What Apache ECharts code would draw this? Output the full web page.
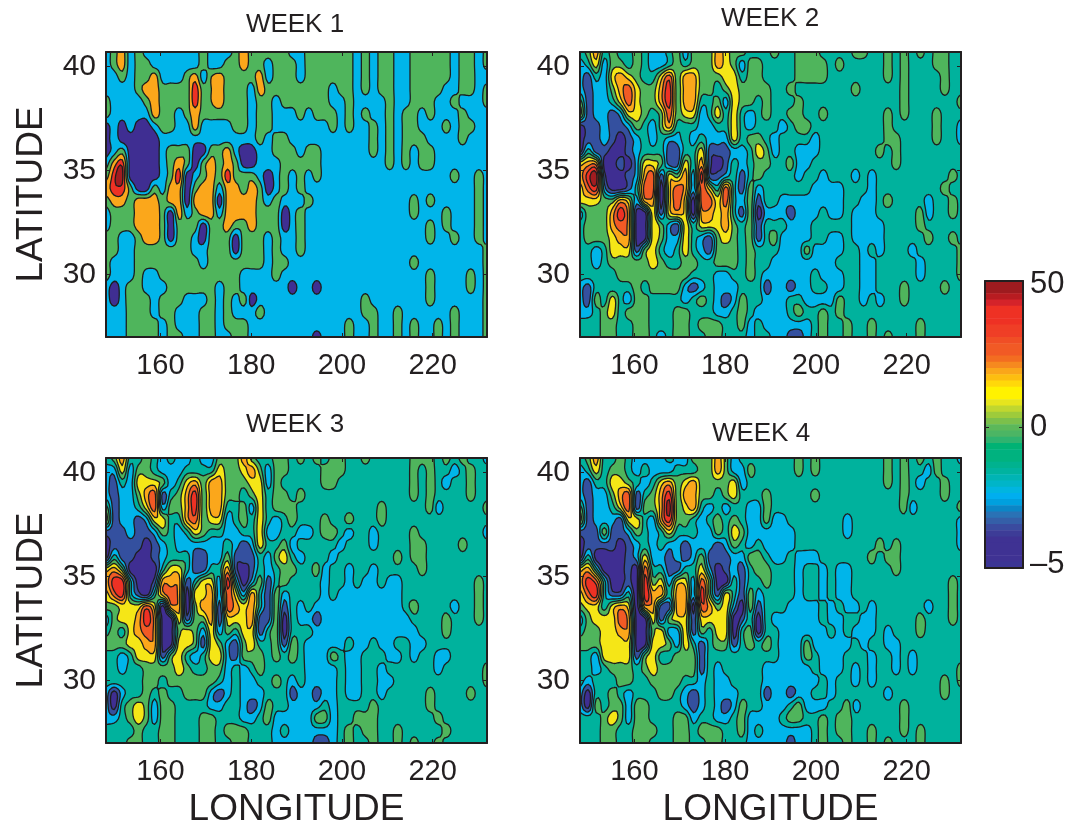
<!DOCTYPE html>
<html><head><meta charset="utf-8">
<style>html,body{margin:0;padding:0;background:#fff}#c{width:1069px;height:824px}</style>
<script src="https://cdn.jsdelivr.net/npm/echarts@6/dist/echarts.min.js"></script>
</head><body><div id="c"></div><script>
// Contour band codes, 48 longitudes x 24 latitudes (top row = north).
// 0 navy, 1 blue, 2 cyan, 3 teal, 4 green, 5 yellow, 6 orange, 7 red-orange, 8 red, 9 dark red
const week1Levels=[
"2462 4222 2222 4222 4644 4442 2444 4442 4244 2244 4442 4424",
"2462 4422 2222 4224 4644 2444 2444 4442 4244 2244 4442 4424",
"2242 4462 2246 2564 4446 2444 2444 4442 4244 2244 4442 4422",
"2222 4664 4448 4564 4426 4444 4444 2442 4244 2244 4422 4424",
"4222 2464 4448 4564 4424 4244 4444 2242 2224 2244 4224 2224",
"4222 2264 4246 4444 4424 4222 4244 4242 4224 2442 4222 4222",
"0202 0024 4226 2222 4424 4222 2222 4242 2424 2442 2242 4422",
"0200 0002 2222 2222 2224 2442 2222 2222 2424 2444 2222 4222",
"0240 0002 4440 0446 2002 2444 2442 2222 2424 2424 4222 2222",
"2680 0002 4640 4646 4002 2244 4442 2222 2224 2424 4222 2222",
"4890 0002 4802 4648 4442 0242 4242 2222 2222 2222 2224 2242",
"6884 0042 6604 6626 6464 0242 4222 2222 2222 2222 2222 2242",
"4664 6664 6606 6606 6664 2422 2422 2222 2222 2242 4222 2242",
"2444 6664 0624 6626 6664 4402 4222 2222 2222 2242 2242 2242",
"2444 6664 0444 0446 4464 4402 4222 2222 2222 2222 4242 2242",
"4422 4664 0442 0444 0444 2422 4222 2222 2222 2222 4224 2242",
"4422 4444 4442 2444 0444 2422 4222 2222 2222 2222 2222 2224",
"4222 4444 4444 2444 4444 2442 2222 2222 2222 2242 2222 2224",
"4222 4224 4444 4444 4222 2422 2222 2222 2222 2222 4222 2424",
"2024 4222 4444 4424 4222 2220 2202 2222 2222 2222 4222 2424",
"2024 4424 4422 2424 2402 2222 2222 2222 4222 2222 4222 2224",
"2224 4424 4222 4424 2224 2222 2222 2222 4422 4222 2224 2224",
"2224 4442 4222 4424 4422 2222 2222 2242 2422 4242 2424 2224",
"2224 4442 4422 4422 4422 2222 2202 2242 2422 4242 2424 2224"];
const week2Levels=[
"3463 4334 3223 4244 4654 4333 4334 4433 3344 3343 4343 4433",
"2352 4434 3223 4344 4654 2443 3334 4443 4333 3343 4333 4433",
"2132 5654 3357 4664 4455 3443 3334 4443 3333 3343 4333 3433",
"2122 4675 4468 4664 4345 4444 3343 3333 3343 3333 4333 3433",
"4122 3575 4468 4663 3425 4434 3334 3333 3333 3333 4333 3334",
"5122 1255 4347 4552 3535 3234 3344 3343 3333 3343 4333 4333",
"0112 1124 3246 3332 2335 3233 3234 4333 3333 3343 3333 4332",
"0112 1012 3232 2323 2225 3443 2333 3233 3333 3344 3333 4332",
"0311 0012 3331 1335 1112 2354 2332 2233 3333 3434 3333 3333",
"5660 0102 5541 1536 1013 2344 3342 2333 3333 3334 3333 3333",
"6891 0012 6715 4628 1123 1343 3332 3323 3323 2333 3333 3343",
"5782 0013 7705 7627 5373 1423 3333 3222 2333 2333 3333 3433",
"5554 4652 6605 7507 7573 2413 3222 2222 2332 2343 3332 3343",
"2444 6860 0515 6506 6563 1402 2212 2232 2322 2333 3342 3343",
"3444 6760 0542 1535 5564 3413 3322 2333 3322 2233 3343 3333",
"3444 5660 0542 2532 1454 3413 4222 2332 2322 2233 3334 3343",
"3323 5551 4532 3532 1444 3433 3222 4222 2332 3233 3233 3334",
"3323 4444 4543 3443 3444 3433 2222 2222 3332 2333 3323 3334",
"3333 3444 4444 4433 3223 3432 2222 2322 2332 2333 3323 3334",
"2133 3334 3444 4212 3222 3331 2212 2332 2332 2333 4333 3433",
"2143 5324 4333 3234 3212 4332 2233 2222 4332 3233 4333 3333",
"2234 5344 4333 4433 3223 4322 2234 3343 4333 3333 3333 3333",
"3334 4334 4333 4434 4433 4232 2222 2343 3433 4333 3343 3333",
"3334 4334 4323 4433 4433 3233 2211 2343 3433 4343 3343 3333"];
const week3Levels=[
"3463 3432 3223 2244 4643 3443 4343 4433 4333 3344 4343 4332",
"2252 4432 2233 3354 4564 2443 3334 4433 3333 3343 4332 3433",
"2132 5554 2356 4664 4455 2433 3334 4333 3333 3343 4323 3433",
"2122 4671 3468 4664 4345 3443 4333 3333 3333 3343 4333 3433",
"4122 3572 4468 4663 3425 3444 3333 3333 3343 3333 4233 3334",
"5122 1255 3367 4552 3435 3234 3334 3343 3343 3333 3333 3333",
"1112 1124 3235 4332 2335 2233 2234 4323 3233 3343 3333 3332",
"0111 1012 3222 2223 2125 3342 3333 3233 3233 3344 3333 4333",
"0311 0012 3331 1224 1113 2453 2333 2333 3333 4344 3333 3333",
"5640 0003 5531 1336 1013 2344 3342 3323 3233 3334 3333 3333",
"6883 0016 6613 5528 3024 1343 3332 3323 2232 2333 3333 3343",
"5783 1036 7605 5627 5263 1423 3332 3222 2222 2333 3333 3343",
"4455 5750 6604 6617 6563 1413 2322 2222 2222 2343 3332 3343",
"2455 6860 0514 4615 5561 1403 2212 2222 2222 2233 3343 3343",
"3435 6760 0454 2524 3551 3403 3322 2222 2222 2223 3343 3333",
"4445 5660 0554 1542 1453 3414 3222 2232 2322 3322 3333 3333",
"3323 5551 4532 3552 1444 3434 3222 4322 3332 2323 3223 3333",
"3323 3444 4543 3442 3234 3333 3222 2322 3323 3333 3233 3334",
"3333 3443 4444 4432 3223 3432 3222 2322 3322 3333 3333 3334",
"2023 3434 3344 4212 3222 3331 2212 2322 3323 3333 4333 3433",
"2034 5424 4333 3223 3212 4332 2223 2333 3433 3333 4333 3333",
"2234 5424 4333 4433 3223 4222 2244 2334 4433 3333 3433 3333",
"3333 4334 4333 4434 4433 3232 2222 2343 4433 4333 3343 3333",
"3334 4334 4333 4433 4433 3222 2211 2343 3433 4343 3433 3333"];
const week4Levels=[
"3463 3432 2223 2244 4642 3333 3334 3433 3333 3343 4343 4332",
"2353 4432 3222 3334 4642 2433 3334 3433 3333 3343 4332 4333",
"2133 5543 2356 4564 4445 2333 3333 3333 3333 3343 4323 3433",
"2122 4671 3468 4664 4345 3334 3333 3433 3333 3333 4333 3433",
"4122 3571 4469 4563 2323 3224 3333 3333 3333 3333 4233 3334",
"5122 2155 3268 4432 3434 3224 2233 3333 3233 3333 3333 3332",
"1114 1124 3235 3332 2435 4222 2223 3333 3233 3333 3333 3332",
"0111 1012 3232 2122 2124 3232 2223 3333 3333 3434 3333 3332",
"0300 0012 5221 2124 1112 2443 2232 2233 3333 4344 3333 3333",
"5630 0010 7331 1335 2012 1344 3332 3323 2233 3334 3333 3333",
"6873 0010 8452 5527 4003 1334 3332 3323 2233 3333 3333 3343",
"5783 1130 8663 6628 4153 1423 3332 3323 2233 3333 3333 3343",
"4553 5650 6611 6607 6452 0413 3322 2232 3223 2333 3332 3343",
"2455 5760 0514 5515 5550 1303 2222 2232 2332 2333 3343 3343",
"3445 5660 0452 2514 3550 3403 3222 2223 2322 2323 3343 3333",
"4445 5550 0554 2531 3441 3434 3222 4222 2232 3322 3333 3333",
"3325 5551 4533 4441 3333 3333 3222 4322 2333 2332 3233 3333",
"3323 4443 4544 4441 3233 3332 2222 2322 2323 2332 3233 3334",
"3233 3443 3444 4332 3223 3332 2222 2232 3323 2333 3333 3434",
"2033 4323 3344 3212 3222 3331 2212 2332 3333 3323 3333 3433",
"2043 4424 4333 3212 3212 4332 2234 2223 3423 3333 4333 3333",
"3334 5424 4333 4423 3223 4222 2344 3343 4433 3333 4333 3333",
"3334 4334 4433 4434 4433 4232 2222 2343 4433 4333 4343 3333",
"3334 4334 4333 4433 4433 3222 2212 2343 3433 4343 3343 3333"];
// band colours, contour thresholds
const bandColors=["#3f2e92","#34509f","#00b5ea","#00b29d","#4fb55c","#f5e617","#fba71b","#f15a25","#ee3124","#a11d21"];
const week1Thresholds=[1,3,5,7,8.5];
const week1Bands=[0,2,4,6,8,9];
const otherThresholds=[0.5,1.5,2.5,3.5,4.5,5.5,6.5,7.5,8.5];
const otherBands=[0,1,2,3,4,5,6,7,8,9];
const weekTitles=["WEEK 1","WEEK 2","WEEK 3","WEEK 4"];
const lonTicks=[160,180,200,220];
const latTicks=[30,35,40];
const lonRange=[148,232];
const latRange=[27,40.7];
const colorbarColors=["#9e1b1f","#9e1b1f","#b81c21","#d4232a","#ee3124","#ee3124","#ee3124","#ef3e26","#ef3e26","#f04e25","#f15a25","#f15a25","#f36d21","#f6891f","#faa61a","#fdbe10","#ffd80a","#fff200","#fff200","#e6e51e","#c0d72f","#9ecb3b","#7cc04b","#5cb85a","#4cb564","#2fb36f","#00b274","#00b27f","#00b27f","#00b28f","#00b39f","#00b4b4","#00b5c8","#00b5e0","#00aeef","#00a0de","#0b86c6","#2a72b5","#345fa8","#3a4b9f","#3d3c97","#3f3293","#3f3293","#3f3293","#3f3293","#3b3594"];
const colorbarTicks={0:"50",23:"0",45:"\u20135"};

const SUB=4, FONT="'Liberation Sans',Arial,sans-serif", INK="#231f20";
const layouts=[[106,52],[580,52],[106,458],[580,458]];
const titleAt=[[290,7],[765,1],[290,407],[756,416]];

function parse(rows){return rows.map(r=>r.replace(/ /g,'').split('').map(Number));}
function cr(a,b,c,d,t){return b+0.5*t*(c-a+t*(2*a-5*b+4*c-d+t*(3*b-a-3*c+d)));}
function refine(m){
  const R=m.length,C=m[0].length,H=(R-1)*SUB+1,W=(C-1)*SUB+1,out=[];
  const at=(r,c)=>m[Math.max(0,Math.min(R-1,r))][Math.max(0,Math.min(C-1,c))];
  for(let i=0;i<H;i++){const row=[];
    const r=Math.min(R-2,Math.floor(i/SUB)),tr=i/SUB-r;
    for(let j=0;j<W;j++){
      const c=Math.min(C-2,Math.floor(j/SUB)),tc=j/SUB-c;
      const col=[];
      for(let k=-1;k<3;k++)col.push(cr(at(r+k,c-1),at(r+k,c),at(r+k,c+1),at(r+k,c+2),tc));
      let v=cr(col[0],col[1],col[2],col[3],tr);
      const q=[at(r,c),at(r,c+1),at(r+1,c),at(r+1,c+1)];
      row.push(Math.max(Math.min(...q),Math.min(Math.max(...q),v)));
    }
    out.push(row);}
  return out;
}
echarts.graphic.registerShape('contourPath',echarts.graphic.extendShape({
  shape:{polys:[],closed:true},
  buildPath(ctx,s){for(const p of s.polys){ctx.moveTo(p[0],p[1]);for(let i=2;i<p.length;i+=2)ctx.lineTo(p[i],p[i+1]);if(s.closed)ctx.closePath();}}
}));
function contours(field,api,thr){
  const H=field.length,W=field[0].length,nodes=[];
  for(let i=0;i<H;i++){const row=[];for(let j=0;j<W;j++){
    const lon=lonRange[0]+(lonRange[1]-lonRange[0])*j/(W-1),lat=latRange[1]-(latRange[1]-latRange[0])*i/(H-1);
    row.push(api.coord([lon,lat]));}nodes.push(row);}
  const fills=[],lines=[];
  for(let i=0;i<H-1;i++)for(let j=0;j<W-1;j++){
    const P=[nodes[i][j],nodes[i][j+1],nodes[i+1][j+1],nodes[i+1][j]];
    const V=[field[i][j],field[i][j+1],field[i+1][j+1],field[i+1][j]];
    const poly=[],cross=[];
    for(let k=0;k<4;k++){
      const a=V[k],b=V[(k+1)%4],pa=P[k],pb=P[(k+1)%4];
      if(a>=thr)poly.push(pa[0],pa[1]);
      if((a>=thr)!==(b>=thr)){const t=(thr-a)/(b-a),x=pa[0]+t*(pb[0]-pa[0]),y=pa[1]+t*(pb[1]-pa[1]);poly.push(x,y);cross.push(x,y);}
    }
    if(poly.length>=6)fills.push(poly);
    if(cross.length===4)lines.push(cross);
    else if(cross.length===8){lines.push(cross.slice(0,4));lines.push(cross.slice(4,8));}
  }
  return {fills,lines};
}
const allWeeks=[week1Levels,week2Levels,week3Levels,week4Levels].map(parse);
const grids=[],xAxes=[],yAxes=[],series=[],titles=[];
allWeeks.forEach((m,p)=>{
  const [l,t]=layouts[p];
  grids.push({left:l,top:t,width:381,height:285,outerBoundsMode:'none'});
  titles.push({text:weekTitles[p],left:titleAt[p][0],top:titleAt[p][1],textAlign:'center',textStyle:{fontFamily:FONT,fontSize:26,fontWeight:'normal',color:INK}});
  const line={show:true,onZero:false,lineStyle:{color:INK,width:2}};
  const xi=xAxes.length,yi=yAxes.length;
  const tick=(vals)=>({show:true,inside:true,length:4,customValues:vals,lineStyle:{color:INK,width:1}});
  xAxes.push({type:'value',gridIndex:p,position:'bottom',min:lonRange[0],max:lonRange[1],z:10,axisLine:line,splitLine:{show:false},axisTick:tick(lonTicks),
    axisLabel:{show:true,customValues:lonTicks,margin:14,fontFamily:FONT,fontSize:29,color:INK,hideOverlap:false},
    name:p>=2?'LONGITUDE':'',nameLocation:'middle',nameGap:48,nameTextStyle:{fontFamily:FONT,fontSize:37,color:INK}});
  xAxes.push({type:'value',gridIndex:p,position:'top',min:lonRange[0],max:lonRange[1],z:10,axisLine:line,splitLine:{show:false},axisTick:tick(lonTicks),axisLabel:{show:false}});
  yAxes.push({type:'value',gridIndex:p,position:'left',min:latRange[0],max:latRange[1],z:10,axisLine:line,splitLine:{show:false},axisTick:tick(latTicks),
    axisLabel:{show:true,customValues:latTicks,margin:10,fontFamily:FONT,fontSize:30,color:INK},
    name:p%2===0?'LATITUDE':'',nameLocation:'middle',nameGap:56,nameRotate:90,nameTextStyle:{fontFamily:FONT,fontSize:37,color:INK}});
  yAxes.push({type:'value',gridIndex:p,position:'right',min:latRange[0],max:latRange[1],z:10,axisLine:line,splitLine:{show:false},axisTick:tick(latTicks),axisLabel:{show:false}});
  const thr=p===0?week1Thresholds:otherThresholds, bands=p===0?week1Bands:otherBands;
  const field=refine(m), cache={};
  const levelData=[-1].concat(thr).map((v,i)=>[lonRange[0],latRange[0],v,bands[i]]);
  const get=(api,v)=>cache[v]||(cache[v]=contours(field,api,v));
  series.push({type:'custom',xAxisIndex:xi,yAxisIndex:yi,silent:true,animation:false,z:2,clip:false,data:levelData,
    renderItem(params,api){const v=api.value(2),c=get(api,v);
      return {type:'contourPath',shape:{polys:c.fills,closed:true},style:{fill:bandColors[api.value(3)],stroke:null}};}});
  series.push({type:'custom',xAxisIndex:xi,yAxisIndex:yi,silent:true,animation:false,z:3,clip:false,data:levelData.slice(1),
    renderItem(params,api){const v=api.value(2),c=get(api,v);
      return {type:'contourPath',shape:{polys:c.lines,closed:false},style:{fill:null,stroke:'#1e1e1e',lineWidth:1.3,lineCap:'round'}};}});
});
// colour bar
const cbCats=colorbarColors.map((_,i)=>String(i));
grids.push({left:985,top:281,width:38,height:287,outerBoundsMode:'none'});
const gi=grids.length-1, cbLine={show:true,lineStyle:{color:INK,width:2}};
const cbTick={show:true,inside:true,length:4,alignWithLabel:true,interval:(i)=>i===23,lineStyle:{color:INK,width:1}};
xAxes.push({type:'category',gridIndex:gi,data:['c'],position:'bottom',z:10,axisLine:cbLine,axisTick:{show:false},axisLabel:{show:false},splitLine:{show:false}});
const cbx=xAxes.length-1;
xAxes.push({type:'category',gridIndex:gi,data:['c'],position:'top',z:10,axisLine:cbLine,axisTick:{show:false},axisLabel:{show:false},splitLine:{show:false}});
yAxes.push({type:'category',gridIndex:gi,data:cbCats,inverse:true,position:'right',z:10,axisLine:cbLine,splitLine:{show:false},
  axisTick:cbTick,
  axisLabel:{show:true,interval:0,margin:7,fontFamily:FONT,fontSize:31,color:INK,formatter:(v)=>colorbarTicks[v]||''}});
const cby=yAxes.length-1;
yAxes.push({type:'category',gridIndex:gi,data:cbCats,inverse:true,position:'left',z:10,axisLine:cbLine,axisTick:cbTick,axisLabel:{show:false},splitLine:{show:false}});
series.push({type:'heatmap',xAxisIndex:cbx,yAxisIndex:cby,silent:true,animation:false,
  data:colorbarColors.map((c,i)=>({value:[0,i,i],itemStyle:{color:c}}))});
const chart=echarts.init(document.getElementById('c'),null,{renderer:'canvas'});
chart.setOption({animation:false,backgroundColor:'#fff',title:titles,grid:grids,xAxis:xAxes,yAxis:yAxes,series,tooltip:{show:false}});
</script></body></html>
